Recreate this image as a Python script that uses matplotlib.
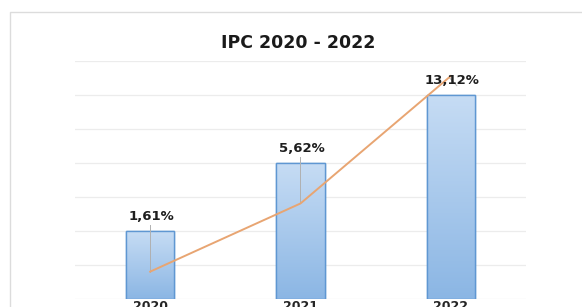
import numpy as np
import matplotlib
matplotlib.use("Agg")
import matplotlib.pyplot as plt
from matplotlib.colors import LinearSegmentedColormap
from matplotlib.patches import Rectangle

years = ["2020", "2021", "2022"]
ipc = [1.61, 5.62, 13.12]          # line values (%)
bar_heights = [4, 8, 12]           # bar heights as drawn in the picture
labels = ["1,61%", "5,62%", "13,12%"]

fig = plt.figure(figsize=(5.82, 3.07), dpi=100)
fig.patch.set_facecolor("white")

# outer chart border (cropped on the right and bottom)
fig.add_artist(Rectangle((10 / 582, -0.1), 1.0, (307 - 12) / 307 + 0.1,
                         transform=fig.transFigure, fill=False,
                         edgecolor="#dcdcdc", lw=1.0))

ax = fig.add_axes([75 / 582, 8 / 307, 451 / 582, 238 / 307])
x = np.arange(len(years))

ax.set_yticks(np.arange(0, 15, 2))
ax.yaxis.grid(True, color="#ececec", lw=0.9)
ax.set_axisbelow(True)
for s in ax.spines.values():
    s.set_visible(False)
ax.tick_params(left=False, labelleft=False, bottom=False, pad=-2.5)
ax.set_xticks(x)
ax.set_xticklabels(years, fontsize=9, fontweight="bold", color="#262626")

cmap = LinearSegmentedColormap.from_list("bl", ["#8bb6e4", "#c6dcf4"])
grad = np.linspace(0, 1, 256).reshape(-1, 1)
bars = ax.bar(x, bar_heights, width=0.32, color="#a9c9ec",
              edgecolor="#5f97d2", lw=1.0, zorder=2)
for b in bars:
    x0, y0 = b.get_x(), b.get_y()
    w, h = b.get_width(), b.get_height()
    im = ax.imshow(grad, cmap=cmap, aspect="auto", origin="lower",
                   extent=[x0, x0 + w, y0, y0 + h], zorder=2.1)
    im.set_clip_path(b)
    ax.add_patch(Rectangle((x0, y0), w, h, fill=False,
                           edgecolor="#5f97d2", lw=1.0, zorder=2.2))
ax.set_xlim(-0.5, 2.5)
ax.set_ylim(0, 14)
ax.set_aspect("auto")

ax.plot(x, ipc, color="#e8a572", lw=1.4, zorder=3)

# data labels with leader lines
for xi, bh, v, lab in zip(x, bar_heights, ipc, labels):
    ax.text(xi + 0.01, bh + 0.85, lab, ha="center", va="center",
            fontsize=9.5, fontweight="bold", color="#1e1e1e", zorder=4)
    if v < bh:
        ax.plot([xi, xi], [bh + 0.35, v], color="#b0b0b0", lw=0.7, zorder=2.5)
    else:
        ax.plot([xi - 0.01, xi + 0.04], [v - 0.1, bh + 0.55],
                color="#b0b0b0", lw=0.7, zorder=2.5)

fig.text(298 / 582, 1 - 43 / 307, "IPC 2020 - 2022", ha="center", va="center",
         fontsize=12.5, fontweight="bold", color="#1a1a1a")

fig.savefig("out.png", dpi=100)
